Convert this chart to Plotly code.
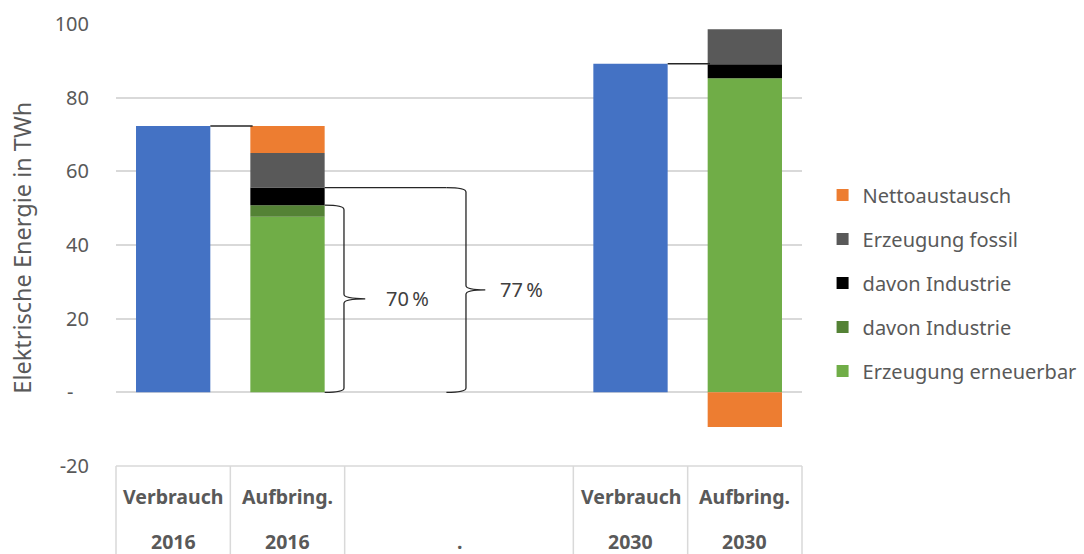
import plotly.graph_objects as go

# ---- data ----
categories = ["Verbrauch 2016", "Aufbring. 2016", "leer a", "leer b", "Verbrauch 2030", "Aufbring. 2030"]
label_row1 = ["Verbrauch", "Aufbring.", "", "", "Verbrauch", "Aufbring."]
label_row2 = ["2016", "2016", ".", "", "2030", "2030"]

verbrauch = [72.3, None, None, None, 89.2, None]
erneuerbar = [None, 47.7, None, None, None, 85.3]
industrie_gruen = [None, 3.1, None, None, None, 0.0]
industrie_schwarz = [None, 4.8, None, None, None, 3.8]
fossil = [None, 9.4, None, None, None, 9.5]
netto = [None, 7.3, None, None, None, -9.4]

y_tickvals = [100, 80, 60, 40, 20, 0, -20]
y_ticktext = ["100", "80", "60", "40", "20", "-\u00a0\u00a0\u00a0", "-20"]

FONT = "Noto Sans"
GREY_TXT = "#595959"
BAR_W = 0.65

fig = go.Figure()
fig.add_bar(x=categories, y=verbrauch, name="Verbrauch", marker_color="#4472C4",
            showlegend=False, width=BAR_W, marker_line_width=0)
series = [
    ("Erzeugung erneuerbar", erneuerbar, "#70AD47"),
    ("davon Industrie", industrie_gruen, "#548235"),
    ("davon Industrie", industrie_schwarz, "#000000"),
    ("Erzeugung fossil", fossil, "#595959"),
    ("Nettoaustausch", netto, "#ED7D31"),
]
for i, (nm, vals, col) in enumerate(series):
    fig.add_bar(x=categories, y=vals, name=nm, marker_color=col, width=BAR_W,
                marker_line_width=0, legendgroup=f"g{i}", legendrank=100 - i)

n = len(categories)


def xpaper(idx):
    return (idx + 0.5) / n


shapes = []
# series lines Verbrauch -> Aufbringung
for vi, ai in [(0, 1), (4, 5)]:
    top = verbrauch[vi]
    shapes.append(dict(type="line", xref="paper", yref="y",
                       x0=xpaper(vi + BAR_W / 2), x1=xpaper(ai - BAR_W / 2 + 0.02),
                       y0=top, y1=top, line=dict(color="#262626", width=1.5)))

# braces for shares
a = 1
v16 = verbrauch[0]
top70 = erneuerbar[a] + industrie_gruen[a]
top77 = top70 + industrie_schwarz[a]
share70 = round(100 * top70 / v16)
share77 = round(100 * top77 / v16)


def brace(xl, xv, xt, ytop, ybot):
    d = 1.2
    ym = (ytop + ybot) / 2
    xl, xv, xt = xpaper(xl), xpaper(xv), xpaper(xt)
    return (f"M{xl},{ytop} Q{xv},{ytop} {xv},{ytop - d} L{xv},{ym + d} "
            f"Q{xv},{ym} {xt},{ym} Q{xv},{ym} {xv},{ym - d} L{xv},{ybot + d} "
            f"Q{xv},{ybot} {xl},{ybot}")


edge = a + BAR_W / 2
shapes.append(dict(type="path", xref="paper", yref="y", path=brace(edge, 1.494, 1.68, top70, 0),
                   line=dict(color="#262626", width=1.3)))
shapes.append(dict(type="line", xref="paper", yref="y", x0=xpaper(edge), x1=xpaper(2.39),
                   y0=top77, y1=top77, line=dict(color="#262626", width=1.3)))
shapes.append(dict(type="path", xref="paper", yref="y", path=brace(2.39, 2.561, 2.73, top77, 0),
                   line=dict(color="#262626", width=1.3)))

# category table lines
shapes.append(dict(type="line", xref="paper", yref="paper", x0=0, x1=1, y0=0, y1=0,
                   line=dict(color="#d9d9d9", width=1.5)))
for b in [-0.5, 0.5, 1.5, 3.5, 4.5, 5.5]:
    shapes.append(dict(type="line", xref="paper", yref="paper", x0=xpaper(b), x1=xpaper(b),
                       y0=0, y1=-0.3, line=dict(color="#d9d9d9", width=1.5)))

annotations = []
annotations.append(dict(xref="paper", yref="y", x=xpaper(1.845), y=top70 / 2,
                        text=f"{share70}\u2009%", showarrow=False, xanchor="left",
                        font=dict(family=FONT, size=20, color="#404040")))
annotations.append(dict(xref="paper", yref="y", x=xpaper(2.84), y=top77 / 2,
                        text=f"{share77}\u2009%", showarrow=False, xanchor="left",
                        font=dict(family=FONT, size=20, color="#404040")))
for i in range(n):
    if label_row1[i]:
        annotations.append(dict(xref="paper", yref="paper", x=xpaper(i), y=0, yshift=-30,
                                text=f"<b>{label_row1[i]}</b>", showarrow=False,
                                xanchor="center", yanchor="middle",
                                font=dict(family=FONT, size=19.5, color=GREY_TXT)))
    if label_row2[i]:
        xi = i + 0.5 if label_row2[i] == "." else i
        annotations.append(dict(xref="paper", yref="paper", x=xpaper(xi), y=0, yshift=-75,
                                text=f"<b>{label_row2[i]}</b>", showarrow=False,
                                xanchor="center", yanchor="middle",
                                font=dict(family=FONT, size=19.5, color=GREY_TXT)))
annotations.append(dict(xref="paper", yref="paper", x=-0.137, y=0.494, textangle=-90,
                        xanchor="center", yanchor="middle",
                        text="Elektrische Energie in TWh", showarrow=False,
                        font=dict(family=FONT, size=23.5, color=GREY_TXT)))

fig.update_layout(
    width=1084, height=554,
    margin=dict(l=116, r=282, t=24, b=88, autoexpand=False),
    paper_bgcolor="white", plot_bgcolor="white",
    barmode="relative", bargap=0.35,
    font=dict(family=FONT, size=20, color=GREY_TXT),
    shapes=shapes, annotations=annotations,
    legend=dict(x=1.03, xanchor="left", y=0.414, yanchor="middle",
                traceorder="grouped", tracegroupgap=15,
                font=dict(family=FONT, size=20, color=GREY_TXT),
                bgcolor="rgba(0,0,0,0)"),
    xaxis=dict(range=[-0.5, 5.5], showticklabels=False, showgrid=False, zeroline=False,
               showline=False, fixedrange=True),
    yaxis=dict(range=[-20, 100], tickvals=y_tickvals, ticktext=y_ticktext,
               showgrid=True, gridcolor="#d9d9d9", gridwidth=1.5, zeroline=False,
               showline=False, ticks="", ticklabelstandoff=26,
               tickfont=dict(family=FONT, size=20, color=GREY_TXT)),
)

fig.write_html("out.html", config={"displayModeBar": False},
               post_script="document.body.style.margin='0';document.body.style.padding='0';document.body.style.overflow='hidden';")
